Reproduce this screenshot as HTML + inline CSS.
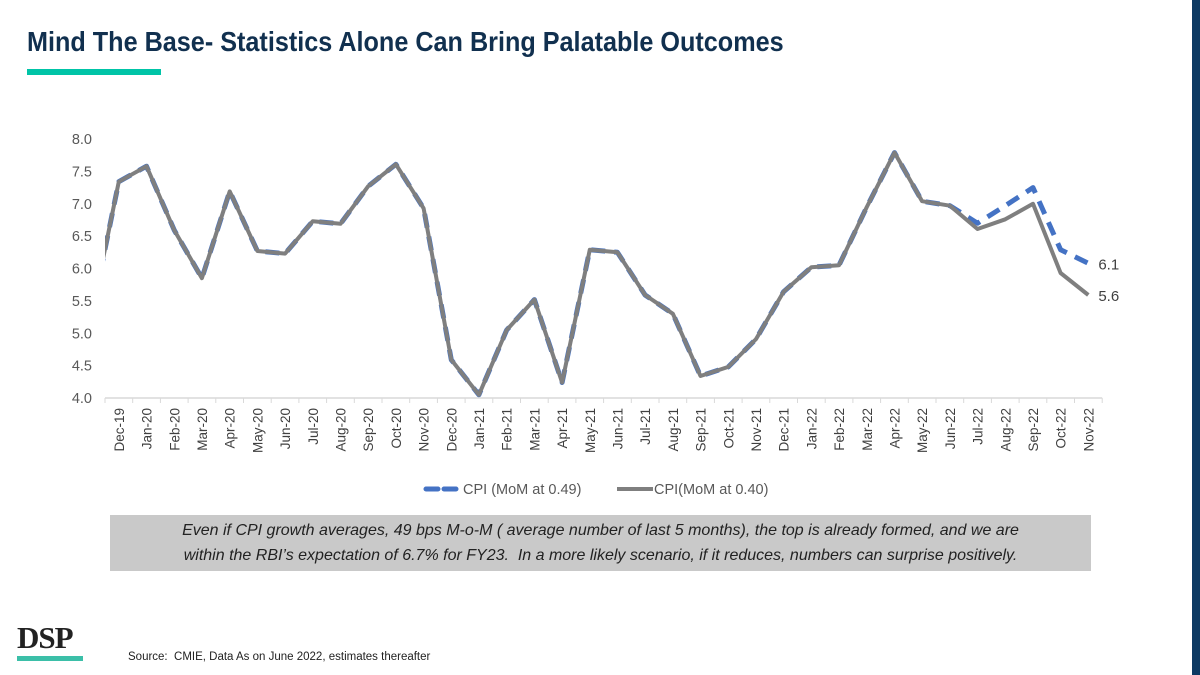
<!DOCTYPE html>
<html><head><meta charset="utf-8"><style>
body{margin:0;width:1200px;height:675px;background:#fff;position:relative;overflow:hidden;font-family:"Liberation Sans",sans-serif}
.abs{position:absolute}
</style></head><body>
<div class="abs" style="left:27px;top:26px;font-size:28px;font-weight:bold;color:#11304f;white-space:nowrap;transform:scaleX(0.9);transform-origin:left">Mind The Base- Statistics Alone Can Bring Palatable Outcomes</div>
<div class="abs" style="left:27px;top:69px;width:134px;height:6px;background:#00c4a7"></div>
<div class="abs" style="left:1192px;top:0;width:8px;height:675px;background:#0d3a63"></div>
<svg class="abs" style="left:0;top:0" width="1200" height="675">
<defs><clipPath id="pc"><rect x="105" y="100" width="1000" height="300"/></clipPath></defs>
<g id="g"></g>
</svg>
<div class="abs" style="left:110px;top:515px;width:981px;height:56px;background:#c9c9c9;color:#222;font-style:italic;font-size:16px;line-height:25px;text-align:center;padding-top:3px;box-sizing:border-box;white-space:nowrap">Even if CPI growth averages, 49 bps M-o-M ( average number of last 5 months), the top is already formed, and we are<br>within the RBI’s expectation of 6.7% for FY23.&nbsp; In a more likely scenario, if it reduces, numbers can surprise positively.</div>
<div class="abs" style="left:17px;top:620px;font-family:'Liberation Serif',serif;font-weight:bold;font-size:31px;color:#222;letter-spacing:-1px">DSP</div>
<div class="abs" style="left:17px;top:656px;width:66px;height:5px;background:#3bbfa8"></div>
<div class="abs" style="left:128px;top:651px;font-size:11.5px;color:#222">Source:&nbsp; CMIE, Data As on June 2022, estimates thereafter</div>
<script>
const categories=["Nov-19","Dec-19","Jan-20","Feb-20","Mar-20","Apr-20","May-20","Jun-20","Jul-20","Aug-20","Sep-20","Oct-20","Nov-20","Dec-20","Jan-21","Feb-21","Mar-21","Apr-21","May-21","Jun-21","Jul-21","Aug-21","Sep-21","Oct-21","Nov-21","Dec-21","Jan-22","Feb-22","Mar-22","Apr-22","May-22","Jun-22","Jul-22","Aug-22","Sep-22","Oct-22","Nov-22"];
const cpi049=[5.25,7.34,7.58,6.59,5.85,7.19,6.27,6.23,6.73,6.69,7.27,7.61,6.93,4.59,4.05,5.05,5.52,4.24,6.29,6.25,5.59,5.30,4.34,4.48,4.91,5.64,6.02,6.05,6.95,7.79,7.04,6.97,6.70,6.97,7.25,6.29,6.08];
const cpi040=[5.25,7.34,7.58,6.59,5.85,7.19,6.27,6.23,6.73,6.69,7.27,7.61,6.93,4.59,4.05,5.05,5.52,4.24,6.29,6.25,5.59,5.30,4.34,4.48,4.91,5.64,6.02,6.05,6.95,7.79,7.04,6.97,6.61,6.76,7.00,5.93,5.59];
const yTicks=[4.0,4.5,5.0,5.5,6.0,6.5,7.0,7.5,8.0];
const NS="http://www.w3.org/2000/svg";
const g=document.getElementById('g');
const x0=105,bw=27.7,yTop=139,yBot=398;
const X=i=>x0+(i-1)*bw+bw/2;
const Y=v=>yBot-(v-4)/(8-4)*(yBot-yTop);
function mk(t,a){const e=document.createElementNS(NS,t);for(const k in a)e.setAttribute(k,a[k]);g.appendChild(e);return e;}
let ax=mk('line',{x1:x0,x2:x0+bw*36,y1:yBot,y2:yBot,stroke:'#d9d9d9','stroke-width':1.5});


for(let i=0;i<=36;i++){const t=mk('line',{x1:x0+i*bw,x2:x0+i*bw,y1:yBot,y2:yBot+5,stroke:'#d9d9d9'});

}
yTicks.forEach(v=>{const t=mk('text',{x:92,y:Y(v)+5,'text-anchor':'end','font-size':14.5,fill:'#595959'});t.textContent=v.toFixed(1);

});
for(let i=1;i<categories.length;i++){const cx=X(i)+5;const t=mk('text',{x:cx,y:yBot+10,'text-anchor':'end','font-size':13.5,fill:'#404040',transform:`rotate(-90 ${cx} ${yBot+10})`});t.textContent=categories[i];

}
const pts=a=>a.map((v,i)=>X(i).toFixed(1)+','+Y(v).toFixed(1)).join(' ');
const l1=mk('polyline',{points:pts(cpi049),fill:'none',stroke:'#4472c4','stroke-width':5,'stroke-dasharray':'14,9','clip-path':'url(#pc)','stroke-linejoin':'round'});


const l2=mk('polyline',{points:pts(cpi040),fill:'none',stroke:'#7f7f7f','stroke-width':4,'clip-path':'url(#pc)','stroke-linejoin':'round'});


const n=cpi049.length-1;
const d1=mk('text',{x:X(n)+10,y:Y(cpi049[n])+6,'font-size':15,fill:'#404040'});d1.textContent=cpi049[n].toFixed(1);


const d2=mk('text',{x:X(n)+10,y:Y(cpi040[n])+6,'font-size':15,fill:'#404040'});d2.textContent=cpi040[n].toFixed(1);


const lg1=mk('line',{x1:426,x2:462,y1:489,y2:489,stroke:'#4472c4','stroke-width':5,'stroke-dasharray':'12,6','stroke-linecap':'round'});


const lt1=mk('text',{x:463,y:494,'font-size':14.5,fill:'#595959'});lt1.textContent='CPI (MoM at 0.49)';


const lg2=mk('line',{x1:617,x2:653,y1:489,y2:489,stroke:'#7f7f7f','stroke-width':4});


const lt2=mk('text',{x:654,y:494,'font-size':14.5,fill:'#595959'});lt2.textContent='CPI(MoM at 0.40)';


</script>
</body></html>
